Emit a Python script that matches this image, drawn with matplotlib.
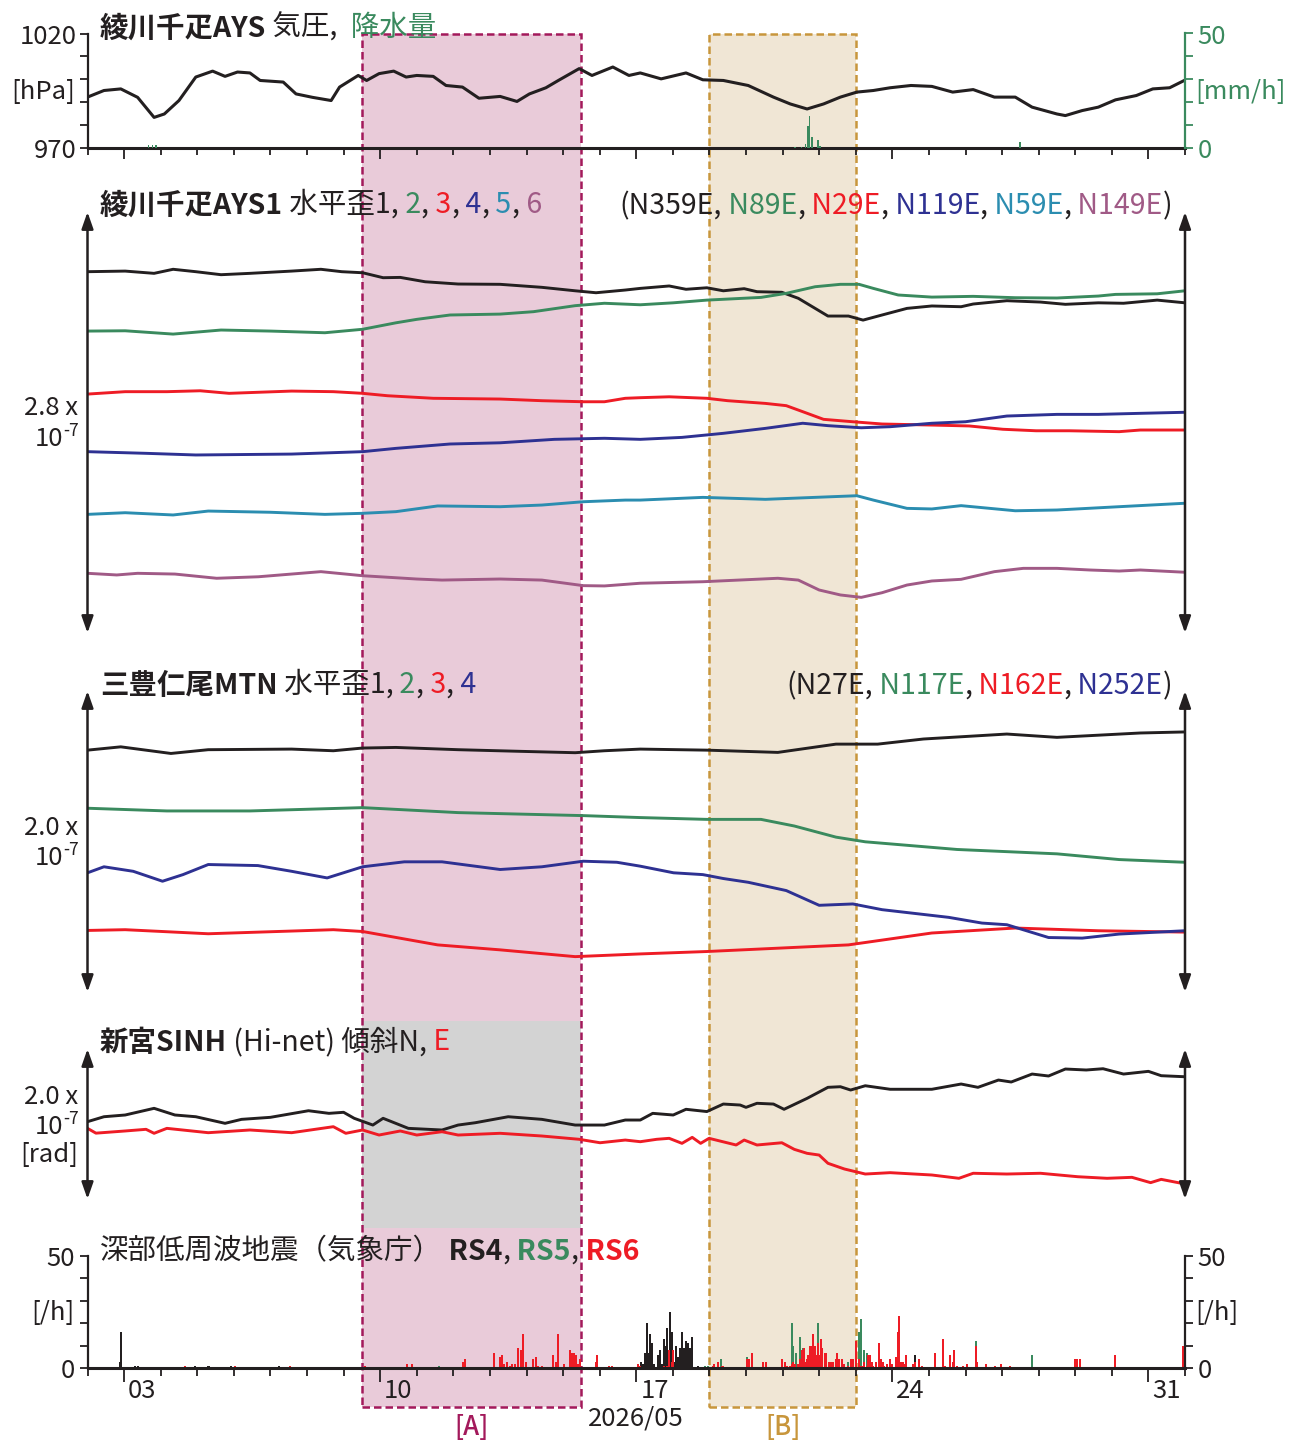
import matplotlib
matplotlib.use("Agg")
import matplotlib.pyplot as plt
from matplotlib.patches import Rectangle
from matplotlib.transforms import blended_transform_factory

plt.rcParams['font.family'] = ['Noto Sans CJK JP', 'DejaVu Sans']

# ---- data (x = day of May 2026, fractional) ----
# pressure [hPa]
p_day = [2.0, 2.45, 2.91, 3.37, 3.82, 4.1, 4.5, 4.96, 5.42, 5.76,
         6.1, 6.44, 6.72, 7.35, 7.7, 8.15, 8.66, 8.89, 9.4, 9.63,
         9.97, 10.37, 10.71, 11.0, 11.45, 11.8, 12.25, 12.7, 13.28, 13.74,
         14.08, 14.53, 14.87, 15.44, 15.79, 16.36, 16.8, 17.11, 17.68, 18.36,
         18.82, 19.38, 20.06, 20.75, 21.21, 21.67, 22.12, 22.58, 23.03, 23.48,
         23.94, 24.51, 25.08, 25.65, 26.21, 26.79, 27.36, 27.82, 28.5, 28.73,
         29.19, 29.63, 30.1, 30.67, 31.12, 31.58, 31.98]
p_hpa = [992.1, 995.0, 995.7, 992.0, 983.2, 984.7, 990.6, 1000.9, 1003.5, 1001.2,
         1003.1, 1002.7, 999.4, 998.7, 993.5, 992.0, 990.6, 996.5, 1001.6, 999.4,
         1002.4, 1003.5, 1000.9, 1001.6, 1001.2, 997.2, 996.5, 991.6, 992.4, 990.2,
         993.5, 996.2, 999.4, 1004.6, 1001.6, 1005.3, 1001.6, 1002.7, 1000.1, 1002.7,
         999.7, 999.4, 997.2, 992.1, 989.1, 986.9, 989.1, 992.1, 994.3, 995.0,
         996.2, 997.2, 996.8, 994.3, 995.4, 992.1, 992.1, 987.7, 984.7, 984.0,
         986.2, 987.7, 990.9, 992.8, 995.7, 996.2, 999.4]

# precipitation [mm/h]
rain_day = [3.65, 3.75, 3.85, 21.32, 21.49, 21.61, 21.67, 21.72, 21.78, 21.95, 22.0, 27.47]
rain_mm = [1, 1, 1, 0.3, 0.3, 1.5, 9.6, 14, 4.4, 3.2, 0.7, 2.2]

# AYS1 strain, 6 components [1e-9]
ays_t1 = [2.0, 3.03, 3.82, 4.34, 4.96, 5.65, 6.44, 7.58, 8.38, 8.95,
          9.52, 10.08, 10.55, 11.23, 12.13, 13.28, 14.42, 15.33, 15.9, 16.7,
          17.11, 17.9, 18.36, 18.93, 19.38, 19.95, 20.3, 20.98, 21.43, 21.89,
          22.24, 22.8, 23.2, 23.72, 24.4, 25.08, 25.88, 26.21, 27.13, 28.05,
          28.73, 29.63, 30.32, 31.24, 32.0]
ays_v1 = [240.3, 240.7, 239.2, 241.9, 240.3, 238.3, 239.2, 240.7, 241.9, 240.3,
          239.6, 236.3, 236.5, 233.6, 232.1, 231.9, 229.9, 227.6, 226.3, 228.1,
          229.2, 230.8, 228.6, 229.6, 227.6, 229.0, 227.0, 226.6, 222.6, 215.9,
          210.8, 210.8, 208.1, 211.5, 215.9, 217.5, 217.0, 218.8, 221.0, 220.1,
          218.6, 219.6, 219.3, 221.4, 219.6]
ays_t2 = [2.0, 3.03, 4.34, 5.65, 7.01, 8.49, 9.52, 10.43, 11.0, 11.91,
          13.28, 14.19, 15.33, 16.13, 17.11, 18.01, 18.93, 20.41, 21.1, 21.89,
          22.58, 23.09, 23.48, 24.16, 25.08, 26.21, 27.36, 28.5, 29.63, 30.1,
          31.24, 32.0]
ays_v2 = [200.8, 201.0, 198.8, 201.5, 200.8, 199.7, 202.0, 206.3, 208.6, 211.5,
          212.1, 213.7, 217.7, 219.3, 218.3, 219.6, 221.4, 223.2, 225.9, 230.3,
          231.9, 231.9, 229.2, 224.8, 223.4, 223.9, 223.0, 222.8, 224.1, 225.2,
          225.6, 227.6]
ays_t3 = [2.0, 3.03, 4.17, 5.08, 5.87, 7.58, 8.72, 9.52, 10.2, 11.45,
          13.28, 14.42, 15.55, 16.13, 16.7, 17.11, 17.9, 18.93, 19.5, 20.53,
          21.1, 21.55, 22.12, 22.92, 23.72, 25.08, 26.1, 27.02, 27.93, 28.84,
          30.2, 30.78, 32.0]
ays_v3 = [158.9, 160.5, 160.5, 161.1, 159.4, 160.9, 160.5, 159.4, 157.8, 156.1,
          155.6, 154.5, 153.8, 153.8, 156.1, 156.5, 157.1, 156.1, 154.5, 152.7,
          151.2, 147.2, 142.1, 140.5, 139.0, 138.3, 137.7, 135.5, 134.5, 134.5,
          133.9, 135.0, 135.0]
ays_t4 = [2.0, 3.6, 4.96, 7.58, 9.52, 10.43, 11.91, 13.28, 14.76, 16.13,
          17.11, 18.25, 19.38, 20.53, 21.55, 22.24, 23.15, 23.94, 25.08, 26.0,
          27.13, 28.5, 29.63, 30.78, 32.0]
ays_v4 = [120.6, 119.5, 118.4, 119.0, 120.6, 122.8, 125.7, 126.5, 128.8, 129.5,
          128.8, 130.1, 132.8, 136.1, 139.5, 137.9, 136.5, 137.2, 139.5, 140.5,
          144.3, 145.4, 145.4, 146.1, 146.8]
ays_t5 = [2.0, 3.03, 4.34, 5.3, 7.0, 8.49, 9.52, 10.43, 11.57, 13.28,
          14.42, 15.55, 16.7, 17.11, 18.82, 20.53, 21.67, 23.03, 23.48, 24.4,
          25.08, 25.88, 27.36, 28.5, 30.2, 32.0]
ays_v5 = [78.9, 80.0, 78.5, 81.1, 80.3, 78.9, 79.6, 80.7, 84.5, 84.0,
          85.1, 87.3, 88.4, 88.4, 90.2, 88.9, 90.0, 91.3, 88.4, 82.9,
          82.5, 84.7, 81.3, 81.8, 84.0, 86.3]
ays_t6 = [2.0, 2.8, 3.37, 4.39, 5.53, 6.67, 8.38, 9.52, 11.0, 11.69,
          13.28, 14.42, 15.55, 16.13, 17.11, 18.82, 20.87, 21.43, 22.0, 22.58,
          23.15, 23.72, 24.4, 25.08, 25.88, 26.79, 27.58, 28.5, 29.4, 30.2,
          30.78, 32.0]
ays_v6 = [39.7, 38.6, 39.7, 39.2, 36.4, 37.4, 40.8, 38.1, 35.9, 35.2,
          35.9, 35.2, 31.5, 31.3, 33.1, 34.1, 36.4, 35.2, 28.6, 25.3,
          23.7, 26.8, 31.9, 34.6, 35.7, 40.8, 43.0, 43.0, 41.9, 41.2,
          41.9, 40.4]

# MTN strain, 4 components [1e-9]
mtn_t1 = [2.0, 2.91, 4.28, 5.3, 7.58, 8.72, 9.52, 10.43, 12.13, 13.85,
          15.33, 16.13, 17.11, 18.93, 20.87, 22.46, 23.6, 24.85, 27.13, 28.5,
          30.78, 32.0]
mtn_v1 = [160.7, 162.9, 158.5, 161.0, 161.4, 160.3, 162.1, 162.5, 161.0, 159.9,
          159.0, 160.3, 161.4, 160.7, 159.2, 164.7, 164.7, 168.1, 171.4, 169.2,
          172.1, 172.8]
mtn_t2 = [2.0, 4.17, 6.44, 9.52, 12.13, 15.55, 17.11, 18.93, 20.41, 21.32,
          22.46, 23.26, 25.77, 28.5, 30.2, 32.0]
mtn_v2 = [122.1, 120.3, 120.3, 122.5, 119.2, 117.2, 115.9, 114.7, 114.7, 110.3,
          102.9, 99.8, 94.7, 91.8, 88.0, 86.2]
mtn_t3 = [2.0, 3.03, 5.3, 8.72, 9.52, 11.57, 13.28, 15.33, 17.11, 18.93,
          22.8, 25.08, 27.36, 29.63, 32.0]
mtn_v3 = [40.9, 41.4, 38.7, 41.4, 40.2, 31.3, 28.0, 23.5, 25.3, 26.9,
          31.3, 39.2, 42.5, 40.7, 39.8]
mtn_t4 = [2.0, 2.45, 3.25, 4.05, 4.61, 5.3, 6.66, 7.58, 8.55, 9.52,
          10.66, 11.69, 13.28, 14.42, 15.55, 16.47, 17.11, 18.02, 18.82, 19.38,
          20.06, 21.1, 22.0, 22.92, 23.72, 25.54, 26.45, 27.13, 28.27, 29.19,
          30.2, 32.0]
mtn_v4 = [79.2, 83.2, 80.2, 73.6, 78.0, 84.7, 84.0, 80.2, 75.8, 83.2,
          86.5, 86.5, 81.4, 83.2, 86.9, 86.2, 83.6, 79.2, 78.0, 75.4,
          72.9, 67.4, 57.6, 58.5, 54.7, 49.6, 45.8, 44.7, 36.2, 35.8,
          38.5, 40.7]

# SINH tilt N, E [1e-9 rad]
tilt_tn = [2.0, 2.45, 3.03, 3.82, 4.39, 4.96, 5.76, 6.21, 7.0, 8.04,
           8.6, 9.0, 9.29, 9.8, 10.08, 10.77, 11.69, 12.13, 12.6, 13.5,
           14.42, 15.33, 16.13, 16.7, 17.11, 17.45, 18.01, 18.36, 18.93, 19.38,
           19.84, 20.0, 20.3, 20.75, 21.04, 21.67, 22.24, 22.58, 22.86, 23.26,
           23.94, 25.08, 25.88, 26.34, 26.9, 27.25, 27.82, 28.27, 28.73, 29.3,
           29.76, 30.32, 31.0, 31.35, 32.0]
tilt_vn = [103.1, 109.7, 112.0, 120.9, 112.0, 109.7, 100.9, 106.2, 108.9, 117.7,
           114.2, 115.6, 107.6, 98.6, 107.6, 94.2, 92.0, 98.6, 101.7, 109.7,
           106.2, 98.6, 98.6, 105.3, 105.3, 114.2, 112.0, 119.6, 116.6, 126.6,
           125.3, 122.2, 127.6, 126.6, 119.6, 134.2, 148.9, 149.7, 145.3, 151.0,
           146.3, 146.3, 153.3, 148.9, 158.6, 156.0, 166.6, 164.0, 173.3, 172.0,
           173.7, 166.6, 170.2, 164.4, 163.0]
tilt_te = [2.0, 2.23, 3.03, 3.6, 3.82, 4.17, 5.3, 6.44, 7.58, 8.72,
           9.06, 9.52, 9.97, 10.55, 11.0, 11.69, 12.13, 13.28, 14.42, 15.44,
           16.01, 16.7, 17.11, 17.56, 17.9, 18.25, 18.53, 18.76, 18.99, 19.73,
           19.95, 20.3, 20.98, 21.32, 21.67, 22.0, 22.24, 22.69, 23.26, 23.94,
           25.08, 25.82, 26.21, 27.13, 28.05, 29.07, 29.87, 30.55, 31.06, 31.35,
           32.0]
tilt_ve = [94.2, 87.8, 90.7, 92.9, 87.6, 94.2, 88.4, 92.0, 88.4, 96.4,
           87.6, 92.0, 85.3, 90.7, 85.3, 89.7, 85.3, 87.6, 84.0, 79.6,
           75.0, 78.6, 76.4, 79.6, 80.9, 74.2, 82.2, 74.2, 80.9, 72.0,
           78.6, 72.0, 75.0, 66.2, 60.9, 58.6, 47.6, 40.0, 33.3, 35.1,
           32.0, 27.6, 34.3, 33.3, 34.3, 29.7, 27.6, 28.9, 21.8, 26.2,
           20.0]

# deep low-frequency tremor counts [/h]
rs4_day = [2.85, 2.89, 3.28, 3.35, 4.9, 5.28, 5.9, 7.2, 17.09, 17.15,
           17.22, 17.26, 17.31, 17.36, 17.41, 17.45, 17.56, 17.61, 17.67, 17.72,
           17.77, 17.82, 17.9, 17.95, 18.02, 18.07, 18.12, 18.17, 18.22, 18.27,
           18.34, 18.38, 18.43, 18.49, 18.65, 24.58]
rs4_n = [3, 16, 1, 1, 1, 1, 1, 1, 3, 2,
         7, 20, 7, 15, 11, 2, 6, 8, 2, 13,
         10, 18, 25, 16, 3, 10, 5, 9, 16, 9,
         12, 11, 9, 14, 1, 6]
rs5_day = [11.57, 18.86, 18.93, 19.29, 20.0, 21.23, 21.27, 21.34, 21.45, 21.53,
           21.94, 22.03, 22.77, 23.07, 23.12, 23.21, 23.27, 26.25, 27.8]
rs5_n = [1, 1, 1, 4, 5, 20, 10, 7, 14, 9,
         20, 13, 3, 16, 22, 8, 7, 12, 6]
rs6_day = [4.63, 6.0, 7.5, 9.55, 10.7, 10.83, 12.25, 12.3, 13.09, 13.25,
           13.29, 13.36, 13.45, 13.52, 13.58, 13.67, 13.75, 13.82, 13.88, 13.95,
           14.15, 14.23, 14.29, 14.4, 14.7, 14.77, 14.84, 15.0, 15.16, 15.22,
           15.27, 15.33, 15.38, 15.44, 15.87, 15.91, 16.23, 16.31, 17.02, 17.08,
           17.73, 17.81, 17.88, 17.95, 17.99, 19.06, 19.1, 19.2, 19.33, 20.0,
           20.05, 20.14, 20.45, 20.53, 20.95, 21.03, 21.09, 21.18, 21.23, 21.27,
           21.32, 21.39, 21.45, 21.5, 21.55, 21.59, 21.64, 21.68, 21.73, 21.77,
           21.8, 21.85, 21.88, 21.94, 21.97, 22.02, 22.06, 22.12, 22.16, 22.23,
           22.29, 22.35, 22.43, 22.47, 22.52, 22.59, 22.66, 22.75, 22.85, 22.91,
           22.98, 23.05, 23.09, 23.15, 23.21, 23.27, 23.32, 23.36, 23.41, 23.45,
           23.53, 23.62, 23.65, 23.71, 23.75, 23.84, 23.92, 23.96, 24.07, 24.12,
           24.16, 24.21, 24.26, 24.31, 24.35, 24.53, 24.58, 24.71, 24.79, 25.14,
           25.35, 25.41, 25.55, 25.62, 25.66, 25.75, 25.91, 26.0, 26.25, 26.3,
           26.53, 26.77, 26.94, 27.19, 28.96, 29.02, 29.1, 30.06, 31.92]
rs6_n = [1, 1, 1, 1, 2, 2, 3, 4, 7, 5,
         6, 2, 3, 1, 2, 2, 9, 8, 15, 3,
         4, 5, 1, 1, 6, 3, 15, 2, 8, 7,
         7, 6, 2, 4, 3, 6, 1, 1, 2, 1,
         1, 1, 8, 3, 8, 1, 2, 3, 1, 4,
         4, 7, 3, 3, 4, 3, 1, 1, 2, 3,
         2, 2, 4, 8, 9, 3, 4, 6, 10, 10,
         15, 10, 6, 11, 6, 13, 9, 7, 7, 3,
         3, 3, 4, 7, 4, 4, 2, 1, 4, 4,
         12, 4, 1, 1, 3, 1, 6, 6, 3, 1,
         3, 11, 4, 3, 1, 2, 4, 2, 5, 16,
         23, 3, 3, 2, 6, 2, 3, 4, 1, 7,
         13, 1, 6, 3, 8, 1, 1, 2, 10, 3,
         2, 1, 2, 1, 4, 4, 4, 6, 10]

period_a = (9.5, 15.5)
period_b = (19.0, 23.0)
week_days = [3, 10, 17, 24, 31]
week_labels = ['03', '10', '17', '24', '31']

# ---- colours ----
K = '#231f20'
GR = '#3a8a5e'
RD = '#ee1c25'
NV = '#2e3192'
TL = '#2b8db0'
MV = '#a05a86'

W, H = 1290, 1441
X0, X1 = 87.5, 1185.0
TSIZE = 20.5
fig = plt.figure(figsize=(W / 100, H / 100), dpi=100)


def add_panel(top, bottom):
    ax = fig.add_axes([X0 / W, 1 - bottom / H, (X1 - X0) / W, (bottom - top) / H])
    ax.patch.set_visible(False)
    ax.set_xlim(2, 32)
    return ax


def fy(y):
    return 1 - y / H


def arrows(ax):
    for xa in (0, 1):
        ax.annotate('', xy=(xa, 1), xytext=(xa, 0), xycoords='axes fraction',
                    textcoords='axes fraction', annotation_clip=False,
                    arrowprops=dict(arrowstyle='<|-|>,head_length=1.0,head_width=0.35',
                                    color=K, lw=1.8, shrinkA=0, shrinkB=0,
                                    mutation_scale=10))


def day_ticks(ax, major_len, minor_len):
    ax.set_xticks(week_days)
    ax.set_xticks([d for d in range(2, 33) if d not in week_days], minor=True)
    ax.tick_params(axis='x', which='major', length=major_len, width=1.3,
                   direction='out', labelbottom=False, color=K)
    ax.tick_params(axis='x', which='minor', length=minor_len, width=1.3,
                   direction='out', color=K)


def color_text(ax, x, y, parts, ha='left', size=TSIZE):
    seq = parts if ha == 'left' else parts[::-1]
    s, c, w = seq[0]
    t = ax.text(x / W, fy(y), s, color=c, fontweight=w, fontsize=size,
                ha=ha, va='baseline', transform=fig.transFigure)
    for s, c, w in seq[1:]:
        t = ax.annotate(s, xy=(1 if ha == 'left' else 0, 0), xycoords=t,
                        ha=ha, va='bottom', color=c, fontweight=w,
                        fontsize=size, annotation_clip=False)


def scale_label(ax, first, y_first, y_pow, extra=None):
    ax.text(78 / W, fy(y_first), first, ha='right', va='center', fontsize=18.5,
            color=K, transform=fig.transFigure)
    ax.text(63 / W, fy(y_pow), '10', ha='right', va='center', fontsize=18.5,
            color=K, transform=fig.transFigure)
    ax.text(63 / W, fy(y_pow - 8), '-7', ha='left', va='center', fontsize=12.5,
            color=K, transform=fig.transFigure)
    if extra:
        ax.text(78 / W, fy(extra[1]), extra[0], ha='right', va='center',
                fontsize=18.5, color=K, transform=fig.transFigure)


# ---- panel 1: pressure and rain ----
ax1 = add_panel(33.5, 147.5)
ax1.set_ylim(970, 1020)
ax1.plot(p_day, p_hpa, color=K, lw=2.2)
for s in ('top', 'right'):
    ax1.spines[s].set_visible(False)
ax1.spines['left'].set_color(K)
ax1.spines['left'].set_linewidth(1.6)
ax1.spines['bottom'].set_color(K)
ax1.spines['bottom'].set_linewidth(2.2)
ax1.set_yticks([970, 1020])
ax1.set_yticks([980, 990, 1000, 1010], minor=True)
ax1.tick_params(axis='y', which='both', direction='out', length=6, width=1.3,
                labelsize=18.5, pad=2, colors=K)
day_ticks(ax1, 8, 5)
ax1.text(75 / W, fy(92), '[hPa]', ha='right', va='center', fontsize=18.5,
         color=K, transform=fig.transFigure)

ax1b = ax1.twinx()
ax1b.set_xlim(2, 32)
ax1b.set_ylim(0, 50)
ax1b.bar(rain_day, rain_mm, width=1 / 24, color=GR, linewidth=0, align='edge')
for s in ('top', 'left', 'bottom'):
    ax1b.spines[s].set_visible(False)
ax1b.spines['right'].set_color(GR)
ax1b.spines['right'].set_linewidth(1.6)
ax1b.set_yticks([0, 50])
ax1b.set_yticks([10, 20, 30, 40], minor=True)
ax1b.tick_params(axis='y', which='both', direction='out', length=6, width=1.3,
                 labelsize=18.5, pad=3, colors=GR)
ax1b.text(1195 / W, fy(92), '[mm/h]', ha='left', va='center', fontsize=18.5,
          color=GR, transform=fig.transFigure)

# ---- panel 2: AYS1 strain ----
ax2 = add_panel(212, 633)
ax2.set_ylim(0, 280)
ax2.axis('off')
for t, v, c in [(ays_t1, ays_v1, K), (ays_t2, ays_v2, GR), (ays_t3, ays_v3, RD),
                (ays_t4, ays_v4, NV), (ays_t5, ays_v5, TL), (ays_t6, ays_v6, MV)]:
    ax2.plot(t, v, color=c, lw=2.1)
arrows(ax2)
scale_label(ax2, '2.8 x', 408, 439)

# ---- panel 3: MTN strain ----
ax3 = add_panel(691, 992)
ax3.set_ylim(0, 200)
ax3.axis('off')
for t, v, c in [(mtn_t1, mtn_v1, K), (mtn_t2, mtn_v2, GR), (mtn_t3, mtn_v3, RD),
                (mtn_t4, mtn_v4, NV)]:
    ax3.plot(t, v, color=c, lw=2.1)
arrows(ax3)
scale_label(ax3, '2.0 x', 828, 858)

# ---- panel 4: SINH tilt ----
ax4 = add_panel(1049, 1199)
ax4.set_ylim(0, 200)
ax4.axis('off')
ax4.plot(tilt_tn, tilt_vn, color=K, lw=2.1)
ax4.plot(tilt_te, tilt_ve, color=RD, lw=2.1)
arrows(ax4)
scale_label(ax4, '2.0 x', 1097, 1127, extra=('[rad]', 1155))

# ---- panel 5: tremor counts ----
ax5 = add_panel(1255.5, 1368.3)
ax5.set_ylim(0, 50)
ax5.bar(rs4_day, rs4_n, width=0.055, color=K, linewidth=0, align='edge')
ax5.bar(rs5_day, rs5_n, width=0.055, color=GR, linewidth=0, align='edge')
ax5.bar(rs6_day, rs6_n, width=0.055, color=RD, linewidth=0, align='edge')
ax5.spines['top'].set_visible(False)
for s in ('left', 'right'):
    ax5.spines[s].set_color(K)
    ax5.spines[s].set_linewidth(1.6)
ax5.spines['bottom'].set_color(K)
ax5.spines['bottom'].set_linewidth(2.2)
ax5.set_yticks([0, 50])
ax5.set_yticks([10, 20, 30, 40], minor=True)
ax5.tick_params(axis='y', which='both', direction='out', length=6, width=1.3,
                labelsize=18.5, pad=3, colors=K, right=True, labelright=True)
day_ticks(ax5, 10, 6)
tr5 = blended_transform_factory(ax5.transData, fig.transFigure)
for d, lab in zip(week_days, week_labels):
    ax5.text(d + 0.5, fy(1391), lab, ha='center', va='center', fontsize=18.5,
             color=K, transform=tr5)
ax5.text(17.0, fy(1418), '2026/05', ha='center', va='center', fontsize=18.5,
         color=K, transform=tr5)
ax5.text(75 / W, fy(1313), '[/h]', ha='right', va='center', fontsize=18.5,
         color=K, transform=fig.transFigure)
ax5.text(1195 / W, fy(1313), '[/h]', ha='left', va='center', fontsize=18.5,
         color=K, transform=fig.transFigure)

# ---- highlighted periods ----
trb = blended_transform_factory(ax1.transData, fig.transFigure)
box_top, box_bot = 33.5, 1407
for (a, b), fill, edge, lab in [(period_a, '#e9cbd9', '#a3195b', '[A]'),
                                (period_b, '#f0e6d5', '#c8963c', '[B]')]:
    fig.add_artist(Rectangle((a, fy(box_bot)), b - a, (box_bot - box_top) / H,
                             transform=trb, facecolor=fill, edgecolor='none',
                             zorder=-3))
    fig.add_artist(Rectangle((a, fy(box_bot)), b - a, (box_bot - box_top) / H,
                             transform=trb, fill=False, edgecolor=edge,
                             lw=1.8, ls=(0, (3, 1.6)), zorder=-1))
    ax5.text((a + b) / 2, fy(1428), lab, ha='center', va='center', fontsize=18.5,
             color=edge, fontweight='medium', transform=tr5)
# tilt data gap over period A
fig.add_artist(Rectangle((period_a[0], fy(1228)), period_a[1] - period_a[0],
                         (1228 - 1020.7) / H, transform=trb,
                         facecolor='#d3d3d3', edgecolor='none', zorder=-2))

# ---- titles ----
n = 'normal'
b = 'bold'
color_text(ax1, 100, 37, [('綾川千疋AYS', K, b), (' 気圧,', K, n), ('  降水量', GR, n)])
color_text(ax2, 100, 214, [('綾川千疋AYS1', K, b), (' 水平歪1,', K, n), (' 2', GR, n),
                           (',', K, n), (' 3', RD, n), (',', K, n), (' 4', NV, n),
                           (',', K, n), (' 5', TL, n), (',', K, n), (' 6', MV, n)])
color_text(ax2, 1172, 214, [('(N359E,', K, n), (' N89E', GR, n), (',', K, n),
                            (' N29E', RD, n), (',', K, n), (' N119E', NV, n),
                            (',', K, n), (' N59E', TL, n), (',', K, n),
                            (' N149E', MV, n), (')', K, n)], ha='right')
color_text(ax3, 100, 694, [('三豊仁尾MTN', K, b), (' 水平歪1,', K, n), (' 2', GR, n),
                           (',', K, n), (' 3', RD, n), (',', K, n), (' 4', NV, n)])
color_text(ax3, 1172, 694, [('(N27E,', K, n), (' N117E', GR, n), (',', K, n),
                            (' N162E', RD, n), (',', K, n), (' N252E', NV, n),
                            (')', K, n)], ha='right')
color_text(ax4, 100, 1051, [('新宮SINH', K, b), (' (Hi-net) 傾斜N,', K, n), (' E', RD, n)])
color_text(ax5, 100, 1259, [('深部低周波地震（気象庁）', K, n), (' RS4', K, b), (',', K, n),
                            (' RS5', GR, b), (',', K, n), (' RS6', RD, b)])

fig.savefig('out.png', dpi=100, facecolor='white')
